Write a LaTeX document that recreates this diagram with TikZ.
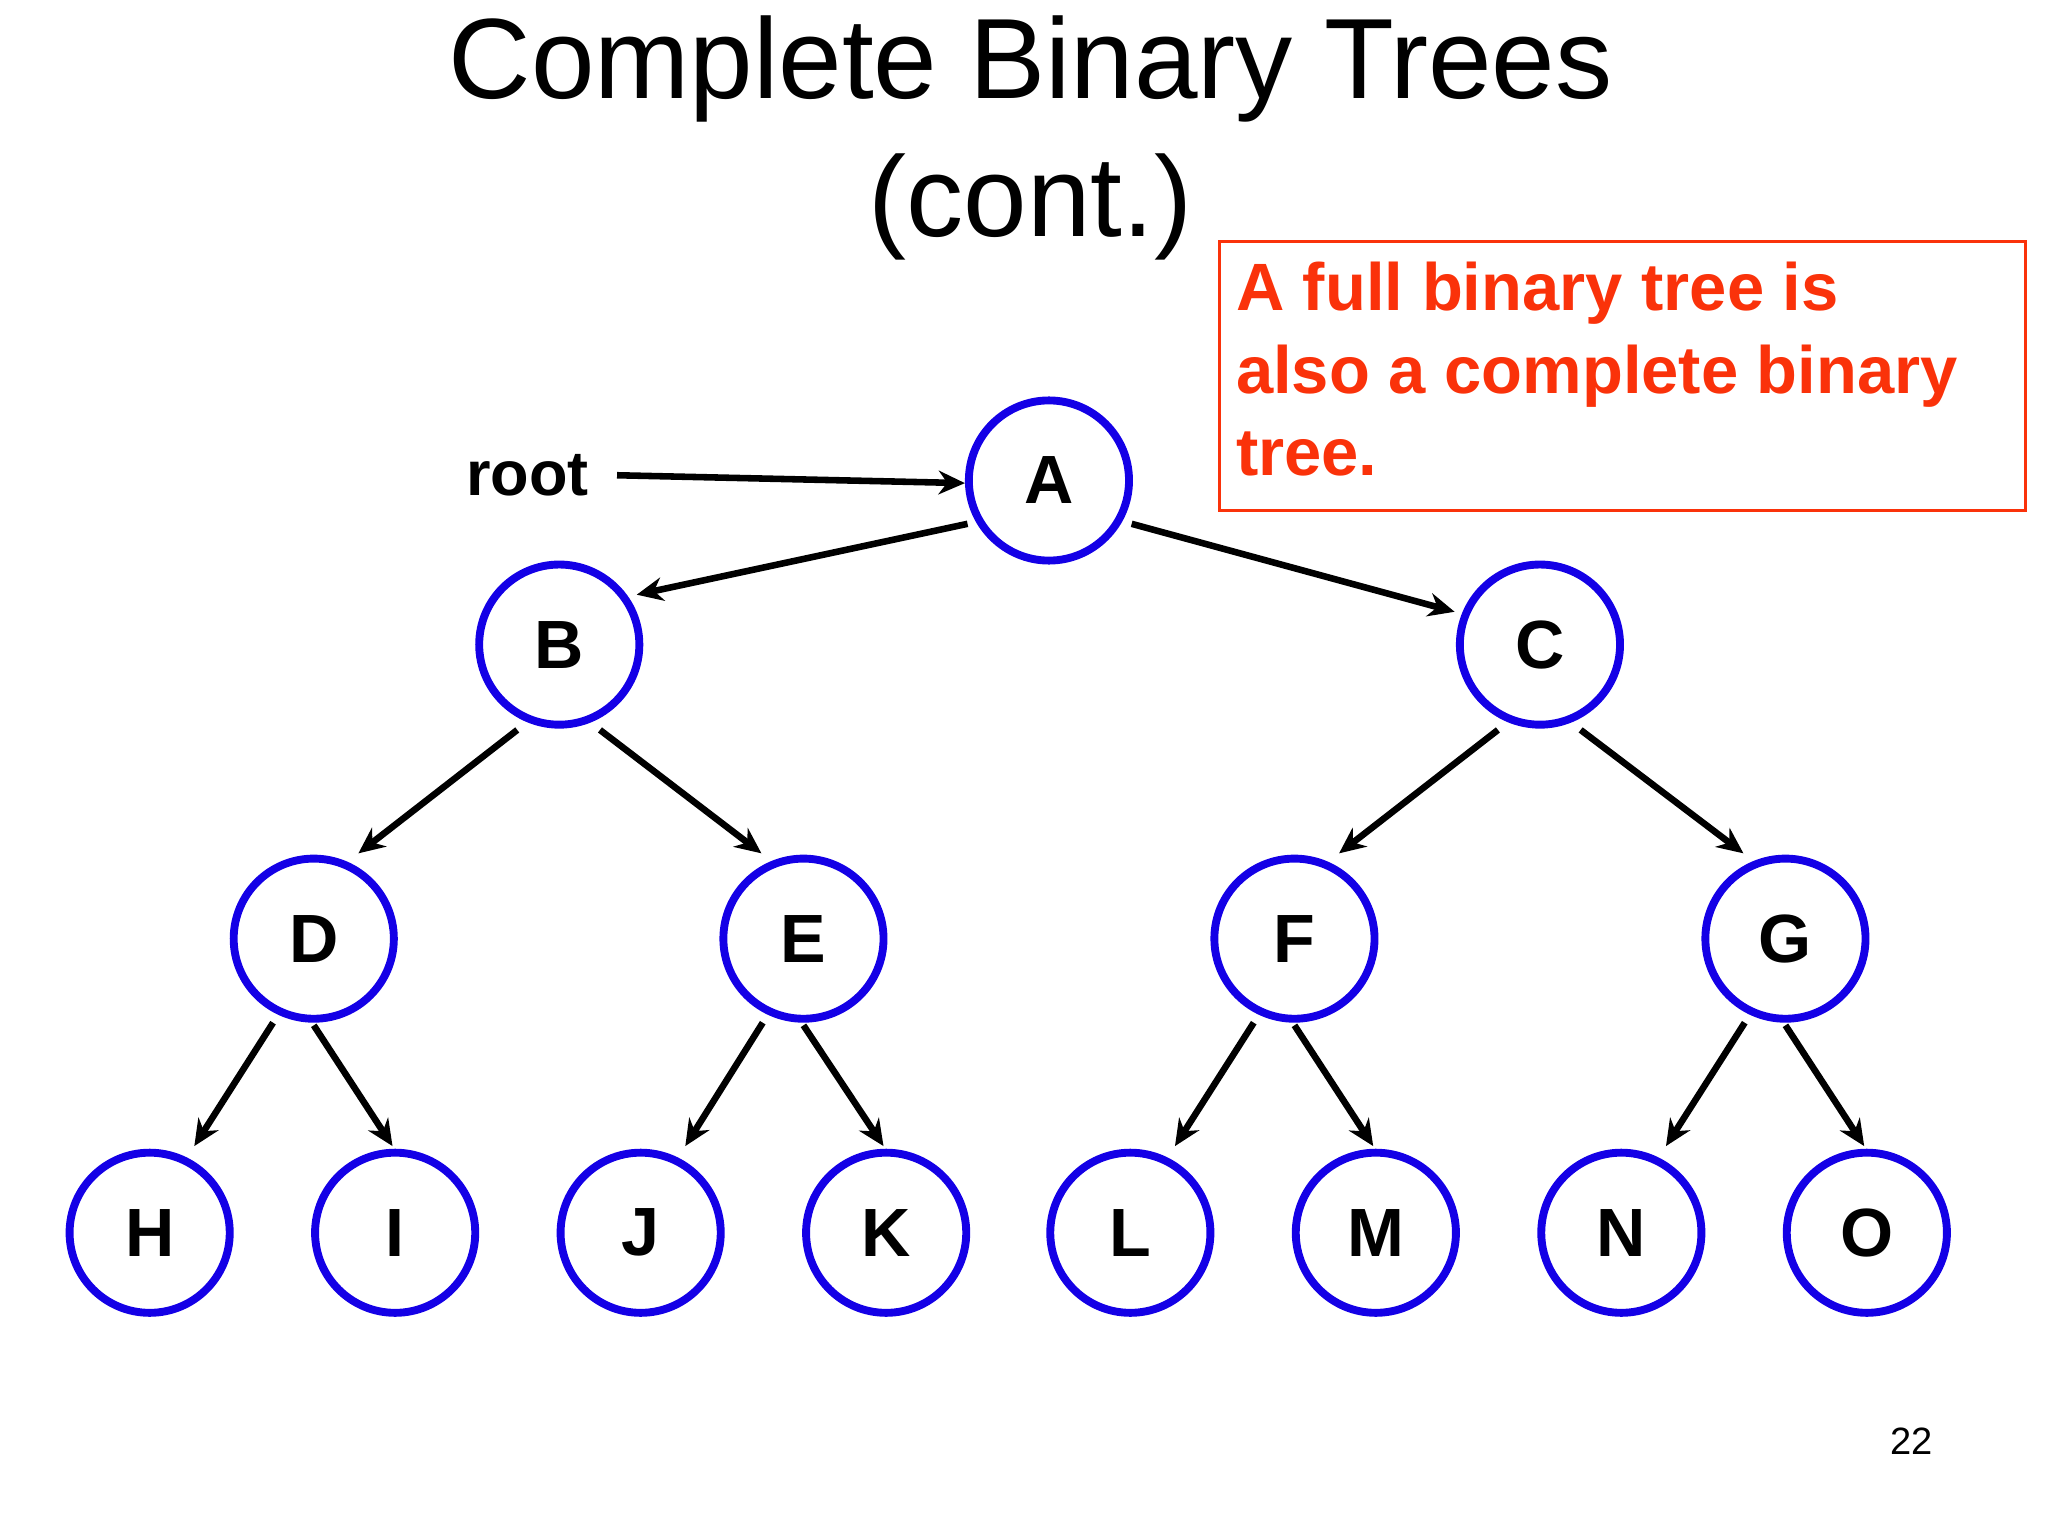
\documentclass[tikz,border=0pt]{standalone}
\usepackage{fontspec}
\setmainfont{Liberation Sans}
\usetikzlibrary{arrows.meta}
\definecolor{nblue}{RGB}{20,0,230}
\definecolor{nred}{RGB}{250,50,10}
\begin{document}
\begin{tikzpicture}[x=1pt,y=-1pt,
  tn/.style={circle,draw=nblue,line width=6pt,minimum size=122pt,inner sep=0pt,font=\fontsize{52}{52}\selectfont\bfseries},
  ar/.style={line width=5pt,-{Stealth[length=20pt,width=18pt]}}]
\useasboundingbox (0,0) rectangle (1560,1170);
\node at (785,105) [align=center,font=\fontsize{87}{105}\selectfont] {Complete Binary Trees\\(cont.)};
\node (box) [draw=nred,line width=2pt,minimum width=614pt,minimum height=205pt,anchor=north west,inner sep=0pt] at (928,183) {};
\node [anchor=north west,align=left,text=nred,font=\fontsize{51}{63}\selectfont\bfseries] at (938,196) {A full binary tree is\\also a complete binary\\tree.};
\node (A) [tn] at (799,366) {A};
\node (B) [tn] at (426,491) {B};
\node (C) [tn] at (1173,491) {C};
\node (D) [tn] at (239,715) {D};
\node (E) [tn] at (612,715) {E};
\node (F) [tn] at (986,715) {F};
\node (G) [tn] at (1360,715) {G};
\node (H) [tn] at (114,939) {H};
\node (I) [tn] at (301,939) {I};
\node (J) [tn] at (488,939) {J};
\node (K) [tn] at (675,939) {K};
\node (L) [tn] at (861,939) {L};
\node (M) [tn] at (1048,939) {M};
\node (N) [tn] at (1235,939) {N};
\node (O) [tn] at (1422,939) {O};
\node (root) [font=\fontsize{48}{48}\selectfont\bfseries,anchor=east] at (452,362) {root};
\coordinate (r0) at ([xshift=18pt]root.east);
\draw[ar] (r0) -- ([xshift=-64pt,yshift=-2pt]A.center);
\draw[ar] ([shift={(-62,33)}]A.center) -- ([shift={(59,-38)}]B.center);
\draw[ar] ([shift={(63,33)}]A.center) -- ([shift={(-65,-25)}]C.center);
\foreach \p/\l/\r in {B/D/E,C/F/G}{
  \draw[ar] ([shift={(-32,65)}]\p.center) -- ([shift={(34,-65)}]\l.center);
  \draw[ar] ([shift={(31,65)}]\p.center) -- ([shift={(-32,-65)}]\r.center);
}
\foreach \p/\l/\r in {D/H/I,E/J/K,F/L/M,G/N/O}{
  \draw[ar] ([shift={(-31,64)}]\p.center) -- ([shift={(34,-66)}]\l.center);
  \draw[ar] ([shift={(0,66)}]\p.center) -- ([shift={(-2,-66)}]\r.center);
}
\node at (1456,1098) [font=\fontsize{29}{29}\selectfont] {22};
\end{tikzpicture}
\end{document}
